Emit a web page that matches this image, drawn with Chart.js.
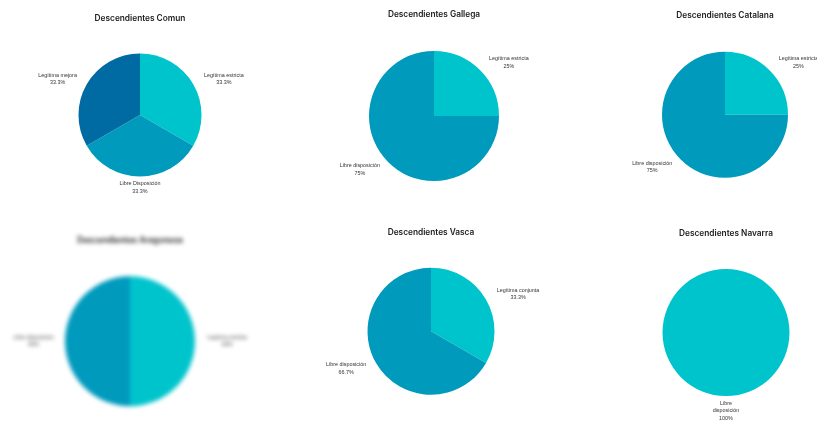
<!DOCTYPE html>
<html><head><meta charset="utf-8">
<script src="https://cdn.jsdelivr.net/npm/chart.js@4"></script>
<style>
html,body{margin:0;padding:0;background:#fff;width:817px;height:421px;overflow:hidden;position:relative}
canvas{position:absolute}
#c4{filter:blur(2px)}
</style></head><body>
<canvas id="c1" width="272" height="210"></canvas>
<canvas id="c2" width="272" height="210"></canvas>
<canvas id="c3" width="272" height="210"></canvas>
<canvas id="c4" width="272" height="210"></canvas>
<canvas id="c5" width="272" height="210"></canvas>
<canvas id="c6" width="272" height="210"></canvas>
<script>
// ---- data ----
const titles = ['Descendientes Comun','Descendientes Gallega','Descendientes Catalana','Descendientes Aragonesa','Descendientes Vasca','Descendientes Navarra'];
const comunLabels = ['Legítima estricta','Libre Disposición','Legítima mejora'];
const comunValues = [33.3, 33.3, 33.3];
const gallegaLabels = ['Legítima estricta','Libre disposición'];
const gallegaValues = [25, 75];
const catalanaLabels = ['Legítima estricta','Libre disposición'];
const catalanaValues = [25, 75];
const aragonesaLabels = ['Legítima estricta','Libre disposición'];
const aragonesaValues = [50, 50];
const vascaLabels = ['Legítima conjunta','Libre disposición'];
const vascaValues = [33.3, 66.7];
const navarraLabels = [['Libre','disposición']];
const navarraValues = [100];

// ---- styles / layout ----
const sliceColors = ['#00C4CC','#009ABD','#006AA3'];
const W = 272, H = 210;
const titleFont = {family:'Inter', size:8.3, weight:'600', lineHeight:1.2};
const charts = [
  {id:'c1', top:0,   cx:139.5, cy:115,   r:61.5, titleY:19,    labels:comunLabels,    values:comunValues},
  {id:'c2', top:0,   cx:433.5, cy:116,   r:65,   titleY:14.5,  labels:gallegaLabels,  values:gallegaValues},
  {id:'c3', top:0,   cx:724.7, cy:114.7, r:63,   titleY:15.7,  labels:catalanaLabels, values:catalanaValues},
  {id:'c4', top:210, cx:129.5, cy:341.3, r:65,   titleY:241,   labels:aragonesaLabels,values:aragonesaValues},
  {id:'c5', top:210, cx:430.7, cy:331.3, r:63.5, titleY:232.7, labels:vascaLabels,    values:vascaValues},
  {id:'c6', top:210, cx:725.7, cy:332.5, r:63.5, titleY:233.3, labels:navarraLabels,  values:navarraValues}
];

const outerLabels = {
  id:'outerLabels',
  afterDatasetsDraw(chart){
    const ctx = chart.ctx;
    const meta = chart.getDatasetMeta(0);
    const data = chart.data.datasets[0].data;
    const total = data.reduce((a,b)=>a+b,0);
    ctx.save();
    ctx.fillStyle = '#333';
    ctx.font = '5.4px "Liberation Sans", Arial, sans-serif';
    ctx.textBaseline = 'middle';
    ctx.textAlign = 'center';
    const lh = 7.4;
    meta.data.forEach((arc,i)=>{
      const p = arc.getProps(['x','y','startAngle','endAngle','outerRadius'], true);
      const mid = (p.startAngle + p.endAngle)/2;
      const vx = Math.cos(mid), vy = Math.sin(mid);
      const lab = chart.data.labels[i];
      const lines = Array.isArray(lab) ? lab.slice() : [lab];
      const pct = Math.round(data[i]/total*1000)/10;
      lines.push(pct + '%');
      const bw = Math.max(...lines.map(t=>ctx.measureText(t).width));
      let bx, y0;
      if (Math.abs(vx) < 0.3) {
        bx = p.x;
        const top = vy > 0 ? p.y + p.outerRadius + 3.6 : p.y - p.outerRadius - 3.6 - lines.length*lh;
        y0 = top + lh/2;
      } else {
        const d = p.outerRadius + 10.8;
        const ax = p.x + vx*d, ay = p.y + vy*d;
        bx = vx > 0 ? ax + 1.5 + bw/2 : ax - 0.5 - bw/2;
        y0 = ay - (lines.length-1)*lh/2;
      }
      lines.forEach((t,k)=>ctx.fillText(t, bx, y0 + k*lh));
    });
    ctx.restore();
  }
};

charts.forEach((c, idx)=>{
  const el = document.getElementById(c.id);
  el.style.left = (c.cx - W/2) + 'px';
  el.style.top = c.top + 'px';
  const boxH = titleFont.size * titleFont.lineHeight;
  const pt = c.titleY - c.top - boxH/2;
  const gb = (c.cy - c.r) - c.top - pt - boxH;
  const pb = c.top + H - c.cy - c.r;
  const ph = W/2 - c.r;
  new Chart(el, {
    type:'pie',
    data:{
      labels:c.labels,
      datasets:[{data:c.values, backgroundColor:sliceColors.slice(0, c.values.length), borderWidth:0, hoverOffset:0}]
    },
    options:{
      responsive:false,
      animation:false,
      devicePixelRatio:1,
      layout:{padding:{top:pt, bottom:pb, left:ph, right:ph}},
      plugins:{
        legend:{display:false},
        tooltip:{enabled:false},
        title:{display:true, text:titles[idx], color:'#222', font:titleFont, padding:{top:0, bottom:gb}}
      }
    },
    plugins:[outerLabels]
  });
});
</script>
</body></html>
